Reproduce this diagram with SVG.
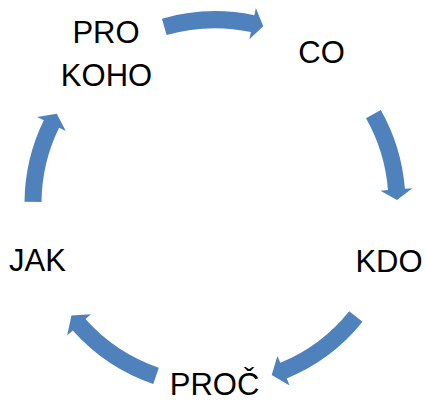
<svg xmlns="http://www.w3.org/2000/svg" width="426" height="401" viewBox="0 0 426 401">
<style>
.arrow{fill:#4F81BD;stroke:none}
.lbl{font-family:"Liberation Sans",Arial,sans-serif;font-size:31px;fill:#000;text-anchor:middle}
</style>
<rect width="426" height="401" fill="#fff"/>
<g id="connectors">
<path class="arrow" d="M161.94,18.66 A192.5,192.5 0 0 1 254.37,15.27 L255.90,7.93 L263.24,26.14 L249.36,39.25 L250.89,31.91 A175.5,175.5 0 0 0 166.62,35.00 Z"/>
<path class="arrow" d="M380.80,109.89 A190.5,190.5 0 0 1 404.91,188.75 L412.39,188.16 L396.96,199.89 L380.49,190.68 L387.97,190.09 A173.5,173.5 0 0 0 366.01,118.27 Z"/>
<path class="arrow" d="M362.50,321.87 A189,189 0 0 1 286.72,378.56 L289.56,385.50 L271.68,375.07 L277.42,355.90 L280.27,362.84 A172,172 0 0 0 349.23,311.24 Z"/>
<path class="arrow" d="M153.29,383.93 A190.5,190.5 0 0 1 72.77,330.43 L67.17,335.42 L71.42,315.54 L91.06,314.13 L85.46,319.12 A173.5,173.5 0 0 0 158.80,367.85 Z"/>
<path class="arrow" d="M24.51,201.71 A190.5,190.5 0 0 1 43.78,120.19 L37.04,116.90 L56.75,113.80 L65.80,130.93 L59.06,127.64 A173.5,173.5 0 0 0 41.51,201.88 Z"/>
</g>
<g id="node-prokoho"><text class="lbl" x="106" y="43">PRO</text><text class="lbl" x="106.5" y="86">KOHO</text></g>
<g id="node-co"><text class="lbl" x="321.5" y="63">CO</text></g>
<g id="node-kdo"><text class="lbl" x="389" y="271.5">KDO</text></g>
<g id="node-proc"><text class="lbl" x="214.5" y="394.5">PROČ</text></g>
<g id="node-jak"><text class="lbl" x="37.5" y="271">JAK</text></g>
</svg>
